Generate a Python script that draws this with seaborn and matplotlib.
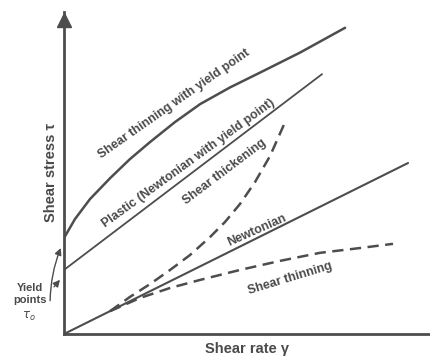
import matplotlib
matplotlib.use('Agg')
import matplotlib.pyplot as plt
import seaborn as sns

# shear rate / shear stress in arbitrary units (0-100)
newt_x = [0, 94]
newt_y = [0, 53.1]

plastic_x = [0, 70.5]
plastic_y = [19.9, 80.7]

thin_yield_x = [0, 3.0, 7.1, 12.6, 18.0, 23.5, 30.3, 37.2, 45.4, 53.6, 64.5, 76.8]
thin_yield_y = [29.8, 35.7, 41.9, 48.4, 54.3, 59.6, 65.8, 71.4, 76.6, 81.2, 87.4, 95.1]

thick_x = [12.6, 18.0, 23.5, 29.0, 34.4, 39.9, 44.0, 48.1, 52.2, 56.3, 60.4]
thick_y = [7.1, 11.5, 15.5, 19.9, 24.5, 30.1, 34.8, 40.4, 47.2, 55.3, 65.8]

thin_x = [12.6, 20.8, 29.0, 37.2, 48.1, 59.0, 69.9, 80.9, 89.9]
thin_y = [7.1, 11.2, 14.3, 16.8, 19.9, 22.7, 25.2, 26.7, 28.0]

# label text, anchor (x, y) and angle on screen
labels = [
    ("Shear thinning with yield point", 30.0, 71.4, 35),
    ("Plastic (Newtonian with yield point)", 34.0, 53.1, 36),
    ("Shear thickening", 44.0, 50.3, 37),
    ("Newtonian", 52.7, 32.3, 24),
    ("Shear thinning", 61.7, 17.4, 17),
]

ink = "#4d4d4d"
txt = "#4a4a4a"

sns.set_style("white")
plt.rcParams['font.family'] = ['Liberation Sans', 'DejaVu Sans']

fig = plt.figure(figsize=(4.3, 3.59), dpi=100)
ax = fig.add_axes([64 / 430, 25 / 359, 366 / 430, 322 / 359])

sns.lineplot(x=newt_x, y=newt_y, ax=ax, color=ink, linewidth=1.5)
sns.lineplot(x=plastic_x, y=plastic_y, ax=ax, color=ink, linewidth=1.3)
sns.lineplot(x=thin_yield_x, y=thin_yield_y, ax=ax, color=ink, linewidth=1.8)
sns.lineplot(x=thick_x, y=thick_y, ax=ax, color=ink, linewidth=1.8,
             linestyle=(0, (4.5, 2.6)))
sns.lineplot(x=thin_x, y=thin_y, ax=ax, color=ink, linewidth=1.8,
             linestyle=(0, (4.5, 2.6)))

ax.set_xlim(0, 100)
ax.set_ylim(0, 100)
ax.set_xticks([])
ax.set_yticks([])
for side in ["top", "right"]:
    ax.spines[side].set_visible(False)
for side in ["left", "bottom"]:
    ax.spines[side].set_color(ink)
    ax.spines[side].set_linewidth(2.0)

# arrow head on the stress axis
ax.plot([0], [97.5], marker="^", markersize=10, color=ink, clip_on=False)

ax.set_xlabel("Shear rate γ", fontsize=10.5, fontweight="bold", color=txt,
              labelpad=6)
ax.set_ylabel("Shear stress τ", fontsize=10.5, fontweight="bold", color=txt,
              labelpad=4)

for s, x, y, rot in labels:
    ax.text(x, y, s, rotation=rot, rotation_mode="anchor", ha="center",
            va="center", fontsize=9, fontweight="bold", color=txt)

# yield point callout
ax.text(-9.3, 12.4, "Yield\npoints", ha="center", va="center", fontsize=8,
        fontweight="bold", color=txt, linespacing=1.35, clip_on=False)
ax.text(-9.6, 5.3, r"$\tau_o$", ha="center", va="center", fontsize=8.5,
        color=txt, clip_on=False)
ax.annotate("", xy=(-0.6, 27.5), xytext=(-3.8, 9.5),
            arrowprops=dict(arrowstyle="-|>", color=ink, lw=1.0,
                            connectionstyle="arc3,rad=-0.1"),
            annotation_clip=False)
ax.annotate("", xy=(-0.6, 17.5), xytext=(-3.2, 14.0),
            arrowprops=dict(arrowstyle="-|>", color=ink, lw=1.0),
            annotation_clip=False)

fig.savefig("out.png", dpi=100, facecolor="white")
plt.close(fig)
